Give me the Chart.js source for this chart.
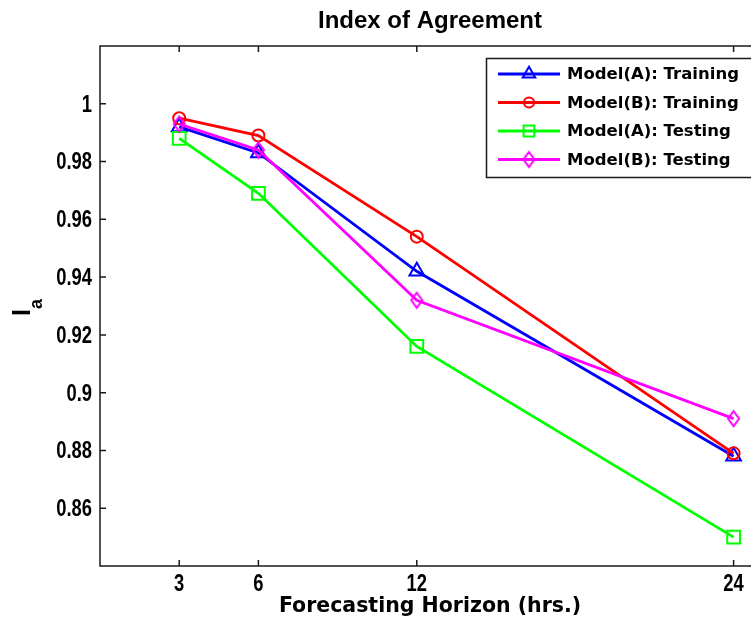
<!DOCTYPE html>
<html>
<head>
<meta charset="utf-8">
<title>Index of Agreement</title>
<script src="https://cdn.jsdelivr.net/npm/chart.js@4.4.1/dist/chart.umd.min.js"></script>
<style>
  html, body { margin: 0; padding: 0; background: #fff; overflow: hidden; }
  #wrap { width: 765px; height: 627px; }
</style>
</head>
<body>
<div id="wrap"><canvas id="chart" width="765" height="627"></canvas></div>
<script>
// --- datos ---
const horizons = [3, 6, 12, 24];
const modelATraining = [0.992, 0.983, 0.942, 0.878];
const modelBTraining = [0.995, 0.989, 0.954, 0.879];
const modelATesting = [0.988, 0.969, 0.916, 0.850];
const modelBTesting = [0.993, 0.984, 0.932, 0.891];
const seriesNames = ['Model(A): Training', 'Model(B): Training', 'Model(A): Testing', 'Model(B): Testing'];
const chartTitle = 'Index of Agreement';

const tickFontCss = "bold 23px 'Liberation Sans', Arial, sans-serif";
const squeeze = 0.8; // las etiquetas del original son angostas

const fmtY = v => {
    const r = Math.round(v * 100) / 100;
    return (r < 0.855 || r > 1.005) ? '' : String(r);
};

// diamond marker (a bit taller than wide, like the matlab one)
const diamond = document.createElement('canvas');
diamond.width = 15; diamond.height = 19;
(() => {
    const c = diamond.getContext('2d');
    c.strokeStyle = '#ff00ff';
    c.lineWidth = 2;
    c.beginPath();
    c.moveTo(7.5, 2); c.lineTo(13, 9.5); c.lineTo(7.5, 17); c.lineTo(2, 9.5);
    c.closePath();
    c.stroke();
})();

const toPoints = vals => horizons.map((h, i) => ({ x: h, y: vals[i] }));

const makeSet = (label, vals, color, style, radius, order) => ({
    label,
    data: toPoints(vals),
    borderColor: color,
    borderWidth: 2.8,
    pointStyle: style,
    pointRadius: radius,
    pointBorderColor: color,
    pointBackgroundColor: 'rgba(0,0,0,0)',
    pointBorderWidth: 2,
    tension: 0,
    fill: false,
    order
});

// --- marco con ticks hacia adentro, etiquetas, titulo ---
const plotFrame = {
    id: 'plotFrame',
    afterDatasetsDraw(chart) {
        const { ctx, chartArea: a, scales: { x, y } } = chart;
        ctx.save();
        ctx.strokeStyle = '#1a1a1a';
        ctx.lineWidth = 1.5;
        ctx.strokeRect(a.left, a.top, a.right - a.left, a.bottom - a.top);
        ctx.beginPath();
        x.ticks.forEach(t => {
            const px = x.getPixelForValue(t.value);
            ctx.moveTo(px, a.bottom); ctx.lineTo(px, a.bottom - 6);
            ctx.moveTo(px, a.top); ctx.lineTo(px, a.top + 6);
        });
        y.ticks.forEach(t => {
            if (!fmtY(t.value)) return;
            const py = y.getPixelForValue(t.value);
            ctx.moveTo(a.left, py); ctx.lineTo(a.left + 6, py);
            ctx.moveTo(a.right, py); ctx.lineTo(a.right - 6, py);
        });
        ctx.stroke();

        // tick labels
        ctx.fillStyle = '#000';
        ctx.font = tickFontCss;
        ctx.textBaseline = 'middle';
        y.ticks.forEach(t => {
            const lbl = fmtY(t.value);
            if (!lbl) return;
            ctx.save();
            ctx.translate(a.left - 8, y.getPixelForValue(t.value) + 1.5);
            ctx.scale(squeeze, 1);
            ctx.textAlign = 'right';
            ctx.fillText(lbl, 0, 0);
            ctx.restore();
        });
        x.ticks.forEach(t => {
            ctx.save();
            ctx.translate(x.getPixelForValue(t.value), a.bottom + 19);
            ctx.scale(squeeze, 1);
            ctx.textAlign = 'center';
            ctx.fillText(String(t.value), 0, 0);
            ctx.restore();
        });

        // titulo centrado sobre el area de trazado
        ctx.font = "bold 24px 'Liberation Sans', Arial, sans-serif";
        ctx.textAlign = 'center';
        ctx.fillText(chartTitle, (a.left + a.right) / 2, 21);

        // I_a
        ctx.translate(30, 316);
        ctx.rotate(-Math.PI / 2);
        ctx.textAlign = 'left';
        ctx.textBaseline = 'alphabetic';
        ctx.font = "bold 25px 'Liberation Sans', Arial, sans-serif";
        ctx.fillText('I', 0, 0);
        ctx.font = "bold 18px 'Liberation Sans', Arial, sans-serif";
        ctx.fillText('a', 7, 12);
        ctx.restore();
    }
};

// --- leyenda estilo matlab ---
const boxLegend = {
    id: 'boxLegend',
    afterDraw(chart) {
        const { ctx } = chart;
        const left = 486.5, top = 58.5, w = 268, h = 119;
        ctx.save();
        ctx.fillStyle = '#fff';
        ctx.fillRect(left, top, w, h);
        ctx.strokeStyle = '#1a1a1a';
        ctx.lineWidth = 1.5;
        ctx.strokeRect(left, top, w, h);
        chart.data.datasets.forEach((ds, i) => {
            const yy = 74 + i * 28.5;
            ctx.strokeStyle = ds.borderColor;
            ctx.lineWidth = ds.borderWidth;
            ctx.beginPath();
            ctx.moveTo(498, yy); ctx.lineTo(560, yy);
            ctx.stroke();
            ctx.lineWidth = ds.pointBorderWidth;
            ctx.fillStyle = 'rgba(0,0,0,0)';
            Chart.helpers.drawPoint(ctx, {
                pointStyle: ds.pointStyle, radius: ds.pointRadius * 0.85, rotation: 0, borderWidth: ds.pointBorderWidth
            }, 529, yy);
            ctx.fillStyle = '#000';
            ctx.font = "bold 16.5px 'DejaVu Sans', sans-serif";
            ctx.textAlign = 'left';
            ctx.textBaseline = 'middle';
            ctx.fillText(ds.label, 567, yy + 1);
        });
        ctx.restore();
    }
};

new Chart(document.getElementById('chart'), {
    type: 'line',
    data: {
        datasets: [
            makeSet(seriesNames[0], modelATraining, '#0000ff', 'triangle', 8.5, 4),
            makeSet(seriesNames[1], modelBTraining, '#ff0000', 'circle', 6, 3),
            makeSet(seriesNames[2], modelATesting, '#00ff00', 'rect', 9, 2),
            makeSet(seriesNames[3], modelBTesting, '#ff00ff', diamond, 7, 1)
        ]
    },
    options: {
        responsive: false,
        animation: false,
        events: [],
        layout: { autoPadding: false, padding: { left: 0, right: 5, top: 46, bottom: 0 } },
        plugins: {
            legend: { display: false },
            tooltip: { enabled: false },
            title: { display: false }
        },
        scales: {
            x: {
                type: 'linear',
                min: 0,
                max: 25,
                afterBuildTicks: s => { s.ticks = horizons.map(v => ({ value: v })); },
                afterFit: s => { s.height = 61; },
                grid: { display: false, drawTicks: false },
                border: { display: false },
                ticks: { display: false },
                title: {
                    display: true,
                    text: 'Forecasting Horizon (hrs.)',
                    color: '#000',
                    font: { family: "'DejaVu Sans', sans-serif", size: 20.5, weight: 'bold' },
                    padding: { top: 0, bottom: 8 }
                }
            },
            y: {
                min: 0.84,
                max: 1.02,
                afterFit: s => { s.width = 100; },
                grid: { display: false, drawTicks: false },
                border: { display: false },
                ticks: { display: false, stepSize: 0.02, callback: fmtY }
            }
        }
    },
    plugins: [plotFrame, boxLegend]
});
</script>
</body>
</html>
